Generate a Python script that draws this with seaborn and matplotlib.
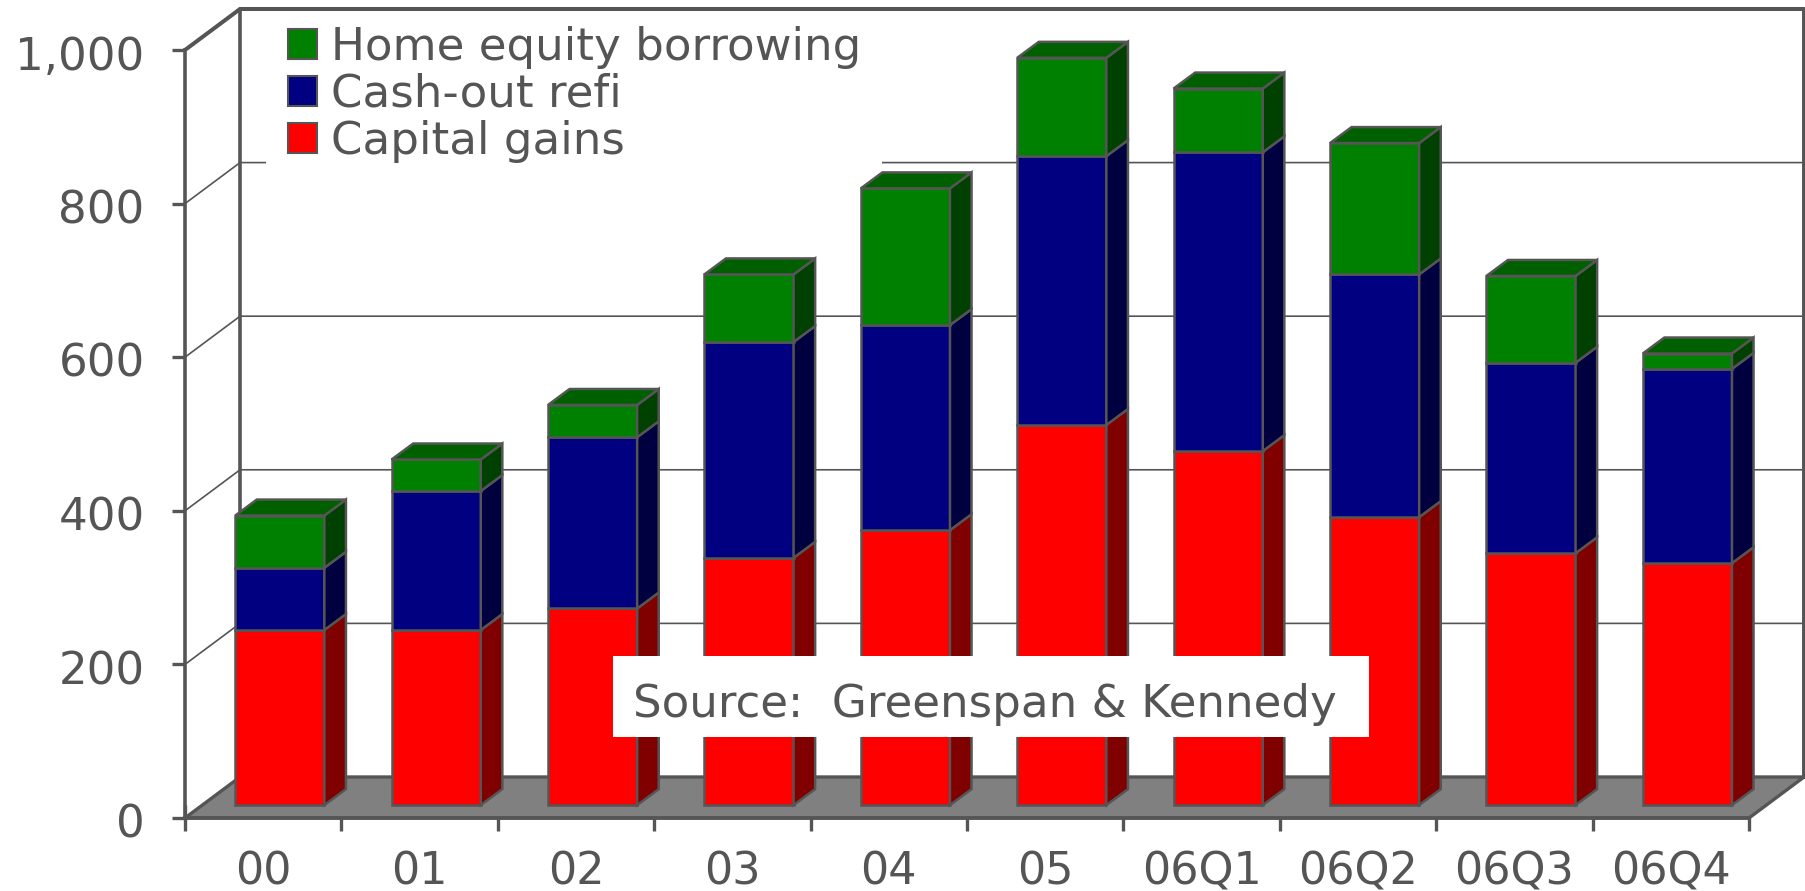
import numpy as np
import pandas as pd
import matplotlib
matplotlib.use('Agg')
import matplotlib.pyplot as plt
from matplotlib.patches import Patch, Rectangle
from matplotlib.transforms import ScaledTranslation
import seaborn as sns

# Datos
periodos = ['00', '01', '02', '03', '04', '05', '06Q1', '06Q2', '06Q3', '06Q4']
capital_gains = [228, 228, 256, 322, 358, 495, 461, 375, 328, 315]
cash_out_refi = [81, 181, 223, 281, 267, 350, 389, 316, 248, 253]
home_equity = [68, 41, 42, 88, 178, 128, 83, 171, 113, 20]

y_ticks = [0, 200, 400, 600, 800, 1000]
y_labels = ['0', '200', '400', '600', '800', '1,000']

GRIS = '#555555'
DEPTH_X, DEPTH_Y = 0.352, 53.4   # profundidad de la caja
OFF_X, OFF_Y = 0.106, 16.8       # donde arrancan las barras sobre el piso
BAR_DX, BAR_DY = 0.138, 20.8     # profundidad de cada barra
LETRA = 32.5

sns.set_theme(style="white")
plt.rcParams['font.family'] = ['DejaVu Sans']

df = pd.DataFrame({'periodo': periodos, 'capital': capital_gains,
                   'cash': cash_out_refi, 'home': home_equity})

fig = plt.figure(figsize=(18.05, 8.91), dpi=100)
ax = fig.add_axes([185 / 1805, 73 / 891, 1564 / 1805, 768 / 891])
ax.patch.set_alpha(0)

series = [('capital', 'Capital gains', '#ff0000', '#800000'),
          ('cash', 'Cash-out refi', '#000080', '#000040'),
          ('home', 'Home equity borrowing', '#008000', '#004000')]

# Barras apiladas
base = np.full(len(df), OFF_Y)
for col, nombre, color, lado in series:
    sns.barplot(data=df, x='periodo', y=col, bottom=base, color=color, saturation=1,
                width=0.57, edgecolor=GRIS, linewidth=1.8, errorbar=None, ax=ax, zorder=3)
    for barra in ax.containers[-1]:
        barra.set_x(barra.get_x() + OFF_X)
        barra.set_clip_on(False)
        x1 = barra.get_x() + barra.get_width()
        y0, y1 = barra.get_y(), barra.get_y() + barra.get_height()
        ax.fill([x1, x1 + BAR_DX, x1 + BAR_DX, x1],
                [y0, y0 + BAR_DY, y1 + BAR_DY, y1],
                facecolor=lado, edgecolor=GRIS, linewidth=1.8, zorder=3, clip_on=False)
    base = base + df[col].to_numpy()

# Tapa de cada columna
for barra in ax.containers[-1]:
    x0 = barra.get_x()
    x1 = x0 + barra.get_width()
    y1 = barra.get_y() + barra.get_height()
    ax.fill([x0, x1, x1 + BAR_DX, x0 + BAR_DX], [y1, y1, y1 + BAR_DY, y1 + BAR_DY],
            facecolor='#006000', edgecolor=GRIS, linewidth=1.8, zorder=3, clip_on=False)

ax.set_xlim(-0.5, 9.5)
ax.set_ylim(0, 1000)
ax.set_xlabel('')
ax.set_ylabel('')

# Piso y paredes
x_ini, x_fin = -0.5, 9.5
ax.fill([x_ini, x_fin, x_fin + DEPTH_X, x_ini + DEPTH_X], [0, 0, DEPTH_Y, DEPTH_Y],
        facecolor='#808080', edgecolor=GRIS, linewidth=2.4, zorder=1, clip_on=False)
for v in y_ticks[1:-1]:
    ax.plot([x_ini, x_ini + DEPTH_X, x_fin + DEPTH_X], [v, v + DEPTH_Y, v + DEPTH_Y],
            color=GRIS, linewidth=1.2, zorder=1, clip_on=False)
# el borde superior va por encima del recuadro de la leyenda
ax.plot([x_ini, x_ini + DEPTH_X, x_fin + DEPTH_X, x_fin + DEPTH_X],
        [1000, 1000 + DEPTH_Y, 1000 + DEPTH_Y, DEPTH_Y],
        color=GRIS, linewidth=2.9, zorder=3, clip_on=False)
ax.plot([x_ini + DEPTH_X, x_ini + DEPTH_X], [DEPTH_Y, 1000 + DEPTH_Y],
        color=GRIS, linewidth=2.6, zorder=1, clip_on=False)

# Ejes
sns.despine(ax=ax, top=True, right=True)
for lado_eje in ['left', 'bottom']:
    ax.spines[lado_eje].set_color(GRIS)
    ax.spines[lado_eje].set_linewidth(2.6)
    ax.spines[lado_eje].set_zorder(4)
ax.set_yticks(y_ticks, y_labels)
ax.set_xticks(np.arange(len(periodos)), periodos)
ax.set_xticks(np.arange(len(periodos) + 1) - 0.5, minor=True)
ax.tick_params(axis='y', direction='out', length=9.5, width=2.4, color=GRIS, pad=19.5,
               labelsize=LETRA, labelcolor=GRIS, left=True)
ax.tick_params(axis='x', which='major', length=0, pad=23.5, labelsize=32, labelcolor=GRIS)
ax.tick_params(axis='x', which='minor', direction='inout', length=19.4, width=2.4,
               color=GRIS, bottom=True)
bajar = ScaledTranslation(0, -2 / 72, fig.dpi_scale_trans)
for etiqueta in ax.get_yticklabels():
    etiqueta.set_transform(etiqueta.get_transform() + bajar)

# Leyenda
handles = [Patch(facecolor=c, edgecolor=GRIS, linewidth=1.5, label=n)
           for _, n, c, _ in reversed(series)]
leg = ax.legend(handles=handles, loc='upper left', bbox_to_anchor=(0.052, 1.059),
                fontsize=LETRA, frameon=True, framealpha=1, facecolor='white', edgecolor='none',
                fancybox=False, handlelength=0.65, handleheight=0.65, handletextpad=0.31,
                labelspacing=0.09, borderpad=0.47, borderaxespad=0)
leg.set_zorder(2)
for t in leg.get_texts():
    t.set_color(GRIS)

# Nota de fuente
ax.add_patch(Rectangle((0.2737, 0.1055), 0.4834, 0.1055, transform=ax.transAxes,
                       facecolor='white', edgecolor='none', zorder=6, clip_on=False))
ax.text(0.2864, 0.148, 'Source:  Greenspan & Kennedy', transform=ax.transAxes, fontsize=LETRA,
        color=GRIS, va='center', ha='left', zorder=7)

fig.savefig('out.png', dpi=100)
